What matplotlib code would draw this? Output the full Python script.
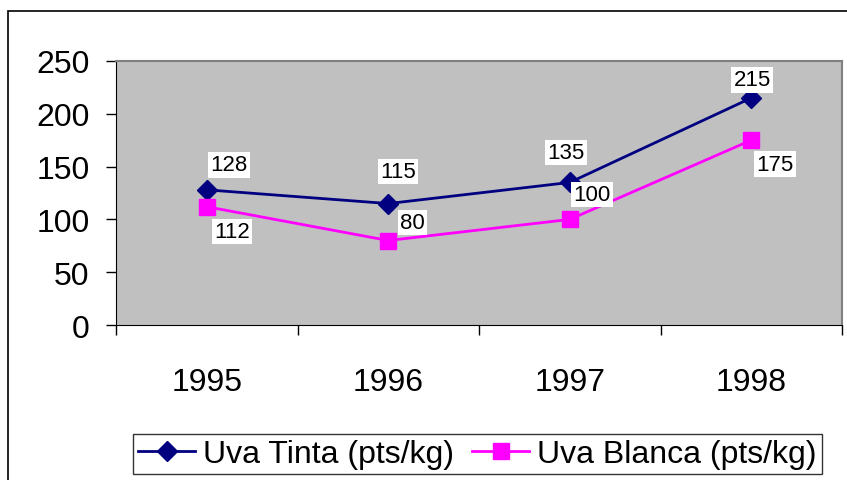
import matplotlib.pyplot as plt
from matplotlib.patches import Rectangle
from matplotlib.ticker import FixedLocator, NullFormatter

plt.rcParams["font.family"] = ["Liberation Sans", "DejaVu Sans"]

years = ["1995", "1996", "1997", "1998"]
tinta = [128, 115, 135, 215]
blanca = [112, 80, 100, 175]

# label offsets (pixels)
tinta_offsets = [(22, 25), (10, 32), (-4, 30), (1, 18)]
blanca_offsets = [(25, -25), (24, 18), (22, 25), (24, -24)]

fig = plt.figure(figsize=(8.47, 4.81), dpi=100)
W, H = 847, 481

# outer chart frame
fig.patches.append(Rectangle((8 / W, -0.1), 1.0, (H - 12) / H + 0.1, transform=fig.transFigure,
                             fill=False, edgecolor="black", linewidth=1.2))

ax = fig.add_axes([116 / W, 1 - 326 / H, (842 - 116) / W, (326 - 62) / H])
ax.set_facecolor("#c0c0c0")

x = range(len(years))
ax.plot(x, tinta, color="#000080", linewidth=2, marker="D", markersize=10.5, label="Uva Tinta (pts/kg)")
ax.plot(x, blanca, color="#ff00ff", linewidth=2, marker="s", markersize=11.5, label="Uva Blanca (pts/kg)")

box = dict(boxstyle="square,pad=0.1", facecolor="white", edgecolor="none")
for i, v in enumerate(tinta):
    ax.annotate(str(v), (i, v), xytext=tinta_offsets[i], textcoords="offset pixels",
                ha="center", va="center", fontsize=16, bbox=box)
for i, v in enumerate(blanca):
    ax.annotate(str(v), (i, v), xytext=blanca_offsets[i], textcoords="offset pixels",
                ha="center", va="center", fontsize=16, bbox=box)

ax.set_xlim(-0.5, 3.5)
ax.set_ylim(0, 250)
ax.set_yticks(range(0, 251, 50))
ax.tick_params(axis="y", labelsize=23, length=7, width=1, pad=12)

ax.xaxis.set_major_locator(FixedLocator([-0.5, 0.5, 1.5, 2.5, 3.5]))
ax.xaxis.set_major_formatter(NullFormatter())
ax.xaxis.set_minor_locator(FixedLocator(list(x)))
ax.set_xticklabels(years, minor=True)
ax.tick_params(axis="x", which="major", length=7, width=1)
ax.tick_params(axis="x", which="minor", length=0, labelsize=23, pad=30)

for side in ["left", "bottom"]:
    ax.spines[side].set_color("black")
for side in ["top", "right"]:
    ax.spines[side].set_color("#808080")
    ax.spines[side].set_linewidth(1.5)

leg = fig.legend(loc="upper left", bbox_to_anchor=(133 / W, 1 - 435 / H), ncol=2, fontsize=23,
                 frameon=True, fancybox=False, edgecolor="black", handlelength=1.8,
                 handletextpad=0.25, columnspacing=0.55, borderpad=0.15, borderaxespad=0)
leg.get_frame().set_linewidth(1)

fig.savefig("out.png", dpi=100)
